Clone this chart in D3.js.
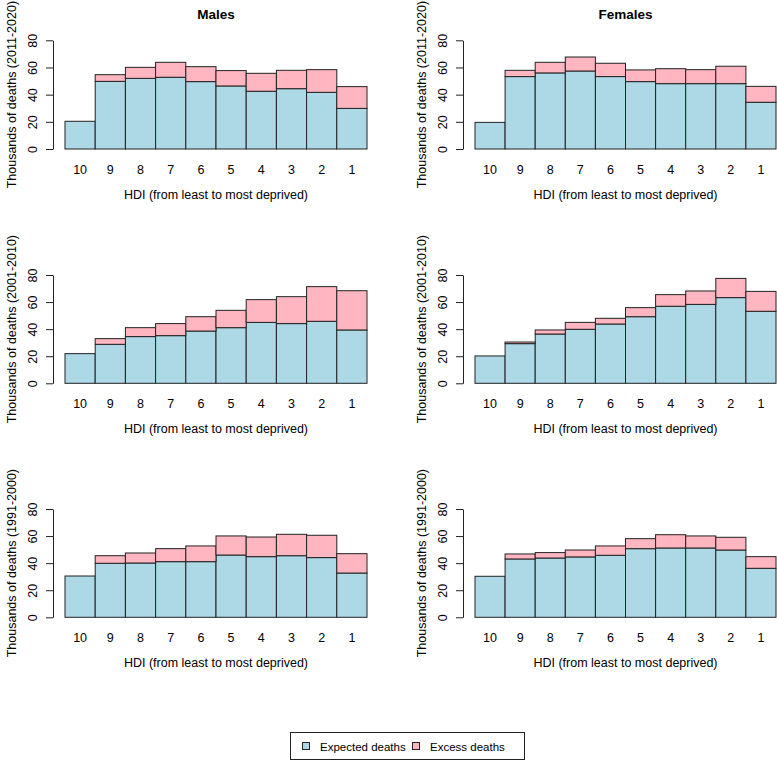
<!DOCTYPE html>
<html>
<head>
<meta charset="utf-8">
<script src="https://cdn.jsdelivr.net/npm/d3@7"></script>
<style>
  html, body { margin: 0; padding: 0; background: #fff; }
  svg { display: block; font-family: "Liberation Sans", Arial, Helvetica, sans-serif; }
</style>
</head>
<body>
<svg id="chart" width="777" height="761"></svg>
<script>
// ---- Data ----
const categories = ["10", "9", "8", "7", "6", "5", "4", "3", "2", "1"];
const yTicks = [0, 20, 40, 60, 80];
const sexes = ["Males", "Females"];
const periods = ["2011-2020", "2001-2010", "1991-2000"];
const seriesNames = ["Expected deaths", "Excess deaths"];

// Expected deaths (thousands) and totals (expected + excess)
const malesExpected2011 = [20.4, 49.8, 52.0, 52.8, 49.6, 46.4, 42.5, 44.4, 41.7, 29.9];
const malesTotal2011    = [20.4, 54.7, 60.1, 63.8, 60.6, 57.7, 55.7, 57.9, 58.4, 45.9];
const femalesExpected2011 = [19.6, 53.3, 56.0, 57.4, 53.3, 49.6, 48.1, 48.1, 48.1, 34.4];
const femalesTotal2011    = [19.6, 57.9, 63.8, 67.7, 63.1, 58.2, 59.1, 58.4, 60.9, 46.1];
const malesExpected2001 = [21.9, 28.8, 34.5, 35.2, 38.6, 41.1, 45.0, 44.1, 45.8, 39.4];
const malesTotal2001    = [21.9, 33.0, 41.1, 44.1, 49.2, 53.9, 61.8, 64.0, 71.4, 68.4];
const femalesExpected2001 = [20.2, 29.3, 36.4, 39.9, 43.8, 49.2, 56.9, 58.3, 63.3, 53.2];
const femalesTotal2001    = [20.2, 30.5, 39.4, 45.0, 48.0, 55.9, 65.5, 68.2, 77.5, 67.9];
const malesExpected1991 = [30.5, 39.9, 40.1, 41.1, 41.1, 46.0, 44.8, 45.5, 44.1, 32.7];
const malesTotal1991    = [30.5, 45.5, 47.5, 50.7, 52.7, 60.1, 59.3, 61.3, 60.6, 47.0];
const femalesExpected1991 = [30.3, 43.1, 43.8, 44.6, 45.8, 50.7, 51.2, 51.2, 49.7, 36.2];
const femalesTotal1991    = [30.3, 46.8, 47.8, 49.7, 52.7, 58.1, 61.0, 60.1, 59.1, 44.8];

const panelData = [
  [[malesExpected2011, malesTotal2011], [femalesExpected2011, femalesTotal2011]],
  [[malesExpected2001, malesTotal2001], [femalesExpected2001, femalesTotal2001]],
  [[malesExpected1991, malesTotal1991], [femalesExpected1991, femalesTotal1991]]
];

// ---- Layout ----
const colors = { expected: "#ADD8E6", excess: "#FFB6C1" };
const strokeCol = "#222";
const colX = [[65, 367], [475, 776]];     // bar extents
const rowY = [[149, 40.3], [383.3, 275], [617.3, 509]]; // y(0), y(80)
const fontSize = 12.5;

const svg = d3.select("#chart");

panelData.forEach((row, r) => {
  row.forEach((pair, c) => {
    const [expected, total] = pair;
    const x = d3.scaleBand().domain(categories).range(colX[c]).padding(0);
    const y = d3.scaleLinear().domain([0, 80]).range(rowY[r]);
    const axisX = colX[c][0] - 12;
    const g = svg.append("g");

    const rows = categories.map((k, i) => ({ k, e: expected[i], t: total[i] }));

    // expected bars
    g.selectAll("rect.exp").data(rows).enter().append("rect")
      .attr("x", d => x(d.k)).attr("width", x.bandwidth())
      .attr("y", d => y(d.e)).attr("height", d => y(0) - y(d.e))
      .attr("fill", colors.expected).attr("stroke", strokeCol).attr("stroke-width", 1);
    // excess bars
    g.selectAll("rect.exc").data(rows.filter(d => d.t > d.e)).enter().append("rect")
      .attr("x", d => x(d.k)).attr("width", x.bandwidth())
      .attr("y", d => y(d.t)).attr("height", d => y(d.e) - y(d.t))
      .attr("fill", colors.excess).attr("stroke", strokeCol).attr("stroke-width", 1);

    // y axis
    const ax = g.append("g").attr("transform", `translate(${axisX},0)`)
      .call(d3.axisLeft(y).tickValues(yTicks).tickSize(7).tickSizeOuter(0).tickPadding(0));
    ax.select(".domain").attr("stroke", strokeCol);
    ax.selectAll(".tick line").attr("stroke", strokeCol);
    ax.selectAll(".tick text")
      .attr("font-size", fontSize).attr("fill", "#000")
      .attr("font-family", '"Liberation Sans", Arial, sans-serif')
      .attr("x", 0).attr("dy", null)
      .attr("text-anchor", "middle")
      .attr("transform", "translate(-20,0) rotate(-90)")
      .attr("dominant-baseline", "auto")
      .attr("y", 4);

    // x category labels
    g.selectAll("text.cat").data(categories).enter().append("text")
      .attr("x", d => x(d) + x.bandwidth() / 2)
      .attr("y", y(0) + 25)
      .attr("text-anchor", "middle")
      .attr("font-size", fontSize)
      .text(d => d);

    // x title
    const cx = (colX[c][0] + colX[c][1]) / 2;
    g.append("text").attr("x", cx).attr("y", y(0) + 50)
      .attr("text-anchor", "middle").attr("font-size", fontSize)
      .text("HDI (from least to most deprived)");

    // y title
    const cy = (rowY[r][0] + rowY[r][1]) / 2;
    g.append("text")
      .attr("transform", `translate(${axisX - 37},${cy}) rotate(-90)`)
      .attr("text-anchor", "middle").attr("font-size", fontSize)
      .text(`Thousands of deaths (${periods[r]})`);

    // column titles
    if (r === 0) {
      g.append("text").attr("x", cx).attr("y", 19)
        .attr("text-anchor", "middle").attr("font-size", 13.5).attr("font-weight", "bold")
        .text(sexes[c]);
    }
  });
});

// ---- Legend ----
const legend = svg.append("g");
legend.append("rect").attr("x", 290.5).attr("y", 732.5).attr("width", 234).attr("height", 27)
  .attr("fill", "#fff").attr("stroke", strokeCol).attr("stroke-width", 1);
const legendItems = [
  { name: seriesNames[0], color: colors.expected, x: 302 },
  { name: seriesNames[1], color: colors.excess, x: 412 }
];
legendItems.forEach(it => {
  legend.append("rect").attr("x", it.x + 0.5).attr("y", 742.5).attr("width", 7).attr("height", 7)
    .attr("fill", it.color).attr("stroke", strokeCol).attr("stroke-width", 1);
  legend.append("text").attr("x", it.x + 18).attr("y", 750.5)
    .attr("font-size", 11.5).text(it.name);
});
</script>
</body>
</html>
